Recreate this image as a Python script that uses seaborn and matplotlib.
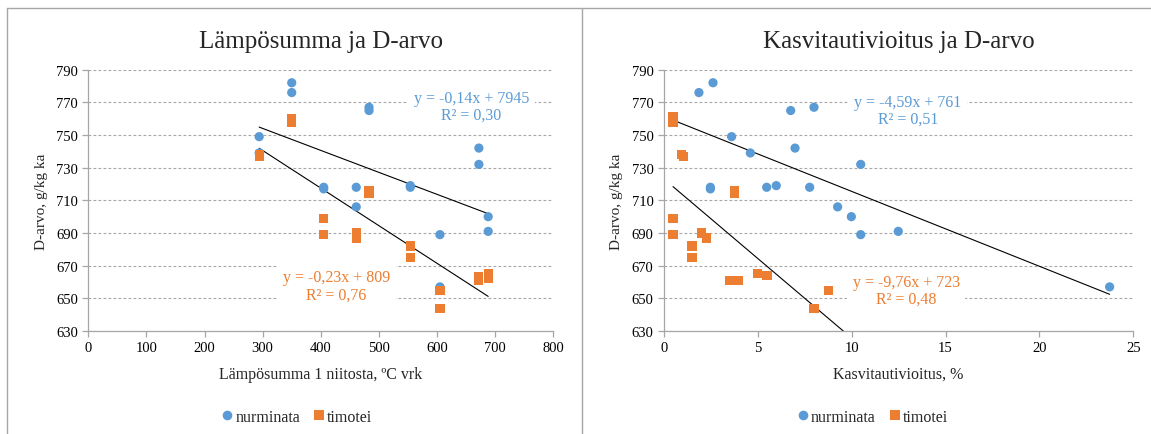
import numpy as np
import pandas as pd
import seaborn as sns
import matplotlib.pyplot as plt
from matplotlib.lines import Line2D

# Data
lampo_x_nurm = [350, 350, 483, 483, 294, 294, 672, 672, 405, 405, 461, 461, 554, 554, 688, 688, 605, 605]
lampo_y_nurm = [782, 776, 767, 765, 749, 739, 742, 732, 718, 717, 718, 706, 719, 718, 700, 691, 689, 657]
lampo_x_tim = [350, 350, 294, 294, 483, 483, 405, 405, 461, 461, 554, 554, 672, 672, 688, 688, 605, 605]
lampo_y_tim = [760, 758, 738, 737, 716, 714, 699, 689, 690, 687, 682, 675, 663, 661, 665, 662, 655, 644]

kasvi_x_nurm = [1.86, 2.61, 6.75, 7.99, 3.60, 4.60, 6.98, 10.48, 2.47, 2.47, 5.47, 5.98, 7.76, 9.25, 9.98, 10.48, 12.48, 23.74]
kasvi_y_nurm = [776, 782, 765, 767, 749, 739, 742, 732, 718, 717, 718, 719, 718, 706, 700, 689, 691, 657]
kasvi_x_tim = [0.48, 0.48, 0.94, 1.03, 3.75, 3.75, 0.48, 0.48, 1.99, 2.25, 1.49, 1.49, 3.52, 3.96, 4.97, 5.49, 8.75, 7.99]
kasvi_y_tim = [761, 758, 738, 737, 716, 714, 699, 689, 690, 687, 682, 675, 661, 661, 665, 664, 655, 644]

lampo_eq = {'nurminata': 'y = -0,14x + 7945\nR² = 0,30', 'timotei': 'y = -0,23x + 809\nR² = 0,76'}
kasvi_eq = {'nurminata': 'y = -4,59x + 761\nR² = 0,51', 'timotei': 'y = -9,76x + 723\nR² = 0,48'}

y_ticks = [630, 650, 670, 690, 710, 730, 750, 770, 790]

colors = {'nurminata': '#5B9BD5', 'timotei': '#ED7D31'}
markers = {'nurminata': 'o', 'timotei': 's'}


def make_df(xn, yn, xt, yt):
    return pd.DataFrame({
        'x': xn + xt,
        'y': yn + yt,
        'laji': ['nurminata'] * len(xn) + ['timotei'] * len(xt),
    })


df_lampo = make_df(lampo_x_nurm, lampo_y_nurm, lampo_x_tim, lampo_y_tim)
df_kasvi = make_df(kasvi_x_nurm, kasvi_y_nurm, kasvi_x_tim, kasvi_y_tim)

sns.set_style('white')
plt.rcParams['font.family'] = ['Liberation Serif', 'DejaVu Serif']

fig = plt.figure(figsize=(11.51, 4.35), dpi=100)
ax1 = fig.add_axes([0.0767, 0.2368, 0.404, 0.6007])
ax2 = fig.add_axes([0.5769, 0.2368, 0.4077, 0.6007])

grey = '#A6A6A6'


def draw_panel(ax, df, title, xlabel, xlim, xticks, eqs, eq_pos, fwd, leg_x):
    sns.scatterplot(data=df, x='x', y='y', hue='laji', style='laji',
                    palette=colors, markers=markers, s=44, linewidth=0,
                    ax=ax, zorder=3)
    # linear trend lines (Excel style, from the smallest x of the chart)
    x0 = df['x'].min()
    for laji, g in df.groupby('laji'):
        m, b = np.polyfit(g['x'], g['y'], 1)
        xs = np.array([x0, g['x'].max() + fwd[laji]])
        ax.plot(xs, m * xs + b, color='black', lw=0.8, zorder=2)
        tx, ty = eq_pos[laji]
        ax.text(tx, ty, eqs[laji], color=colors[laji], fontsize=11.5,
                ha='center', va='center', linespacing=1.1, zorder=4,
                bbox=dict(facecolor='white', edgecolor='none', pad=4))
    ax.set_xlim(*xlim)
    ax.set_ylim(630, 790)
    ax.set_xticks(xticks)
    ax.set_yticks(y_ticks)
    ax.yaxis.grid(True, color=grey, linestyle=(0, (2.5, 2)), lw=0.8)
    ax.set_axisbelow(True)
    for s in ['top', 'right']:
        ax.spines[s].set_visible(False)
    for s in ['left', 'bottom']:
        ax.spines[s].set_color(grey)
        ax.spines[s].set_linewidth(0.9)
    ax.tick_params(axis='both', direction='out', length=4, width=0.9, color=grey,
                   labelsize=10.5, labelcolor='black', left=True, bottom=True)
    ax.set_title(title, fontsize=18, pad=16)
    ax.set_xlabel(xlabel, fontsize=11.5, labelpad=8)
    ax.set_ylabel('D-arvo, g/kg ka', fontsize=11, labelpad=6)
    sns.move_legend(ax, 'center', bbox_to_anchor=(leg_x, -0.329), ncol=2,
                    frameon=False, title=None, fontsize=11.5, markerscale=1.05,
                    handlelength=0.6, handletextpad=0.2, columnspacing=0.9)


draw_panel(ax1, df_lampo, 'Lämpösumma ja D-arvo', 'Lämpösumma 1 niitosta, ºC vrk',
           (0, 800), range(0, 801, 100), lampo_eq,
           {'nurminata': (659, 767.5), 'timotei': (427, 657.5)},
           {'nurminata': 0, 'timotei': 0}, 0.45)
draw_panel(ax2, df_kasvi, 'Kasvitautivioitus ja D-arvo', 'Kasvitautivioitus, %',
           (0, 25), range(0, 26, 5), kasvi_eq,
           {'nurminata': (13.0, 765), 'timotei': (12.9, 655)},
           {'nurminata': 0, 'timotei': 0.85}, 0.446)

# chart frames
fig.add_artist(Line2D([7 / 1151, 7 / 1151], [0, 1 - 9 / 435], color=grey, lw=1))
fig.add_artist(Line2D([7 / 1151, 1], [1 - 9 / 435, 1 - 9 / 435], color=grey, lw=1))
fig.add_artist(Line2D([582 / 1151, 582 / 1151], [0, 1 - 9 / 435], color=grey, lw=1))

fig.savefig('out.png', dpi=100)
